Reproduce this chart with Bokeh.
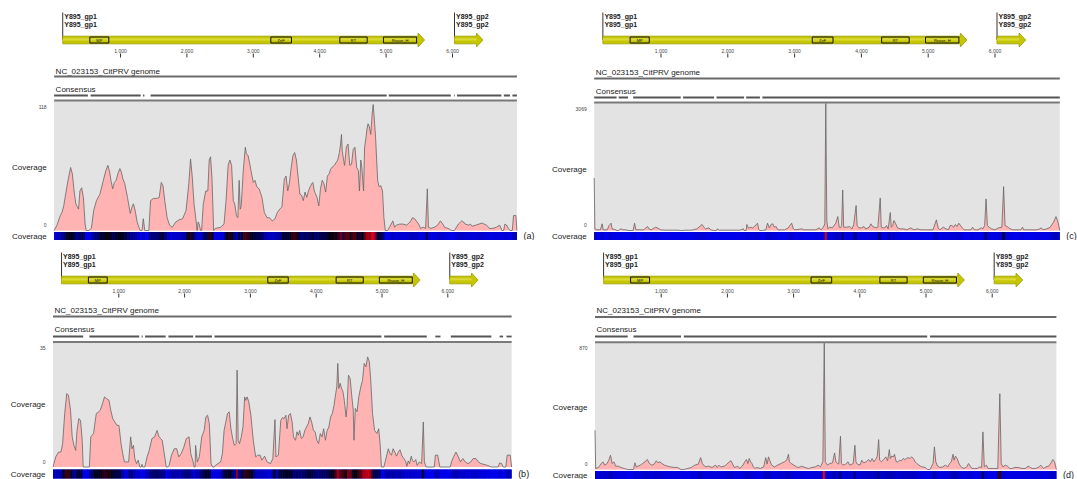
from bokeh.plotting import figure
from bokeh.models import Range1d, ColumnDataSource, LinearColorMapper
from bokeh.layouts import row, column
from bokeh.embed import file_html
from bokeh.resources import INLINE
from bokeh.core.properties import value
from bokeh.transform import transform

# ---------------- data ----------------
GENOME_LEN = 6970
genome_name = "NC_023153_CitPRV genome"
tick_positions = [1000, 2000, 3000, 4000, 5000, 6000]
tick_labels = ["1,000", "2,000", "3,000", "4,000", "5,000", "6,000"]
gene_names = ["Y895_gp1", "Y895_gp2"]
gene_starts = [130, 6030]
gene_ends = [5580, 6460]
domain_names = ["MP", "ZnF", "RT", "Rnase_H"]
domain_starts = [538, 3264, 4303, 4960]
domain_ends = [824, 3575, 4715, 5460]
panel_tags = ["(a)", "(b)", "(c)", "(d)"]
cov_max = [118, 35, 3069, 870]

consensus_a = [(0, 509), (550, 1303), (1339, 1360), (1453, 5008), (5040, 5974),
               (6026, 6036), (6067, 6737), (6773, 6866), (6903, 6970)]
consensus_b = [(0, 459), (553, 1310), (1347, 1363), (1399, 1712), (1754, 2130),
               (2161, 2417), (2454, 4991), (5033, 5680), (5811, 5889), (6046, 6662),
               (6787, 6840), (6892, 6970)]
consensus_c = [(0, 335), (366, 506), (583, 1295), (1331, 1795), (1831, 2244),
               (2275, 2481), (2518, 6970)]
consensus_d = [(0, 494), (582, 1300), (1342, 5018), (5060, 6970)]

coverage_a = [(0,0),(42,4.7),(93,14),(119,17),(145,23),(182,37),(213,48),(249,59),(275,53),(301,37),
 (327,25),(368,20),(389,37),(415,40),(441,31),(467,6),(483,0),(524,0),(561,2),(597,19),(638,28),(690,34),
 (742,47),(779,56),(810,61),(836,55),(856,47),(882,39),(908,45),(934,47),(960,53),(991,58),(1012,55),
 (1038,48),(1064,44),(1105,31),(1147,16),(1173,22),(1194,25),(1220,19),(1251,8),(1277,3),(1298,0),
 (1324,0),(1344,11),(1365,0),(1427,0),(1453,28),(1495,30),(1547,30),(1583,31),(1614,45),(1640,42),
 (1666,28),(1702,12),(1739,5),(1780,3),(1832,8),(1884,10),(1936,11),(1988,19),(2029,44),(2055,67),
 (2081,50),(2107,25),(2133,12),(2154,0),(2169,8),(2185,6),(2206,0),(2221,0),(2247,25),(2284,37),
 (2315,37),(2336,66),(2356,69),(2377,50),(2403,0),(2429,2),(2507,3),(2559,6),(2590,28),(2621,61),
 (2647,66),(2673,61),(2699,28),(2720,25),(2746,14),(2767,12),(2787,47),(2803,20),(2818,23),(2849,56),
 (2880,78),(2896,72),(2922,70),(2948,62),(2974,53),(3000,45),(3026,47),(3052,41),(3088,39),(3130,31),
 (3166,17),(3207,12),(3244,12),(3285,9),(3327,11),(3363,17),(3399,20),(3431,22),(3467,48),(3493,51),
 (3519,37),(3545,45),(3571,59),(3597,70),(3623,73),(3649,66),(3675,50),(3701,34),(3727,33),(3753,28),
 (3779,36),(3805,31),(3831,37),(3857,41),(3883,44),(3898,45),(3919,37),(3960,31),(3986,23),(4012,39),
 (4038,47),(4064,44),(4090,36),(4116,51),(4142,53),(4168,58),(4220,61),(4271,66),(4297,73),(4313,80),
 (4328,90),(4339,75),(4360,66),(4375,61),(4401,78),(4427,81),(4453,61),(4479,62),(4505,76),(4531,78),
 (4557,59),(4583,56),(4598,37),(4619,66),(4635,59),(4661,37),(4676,78),(4697,87),(4712,95),(4728,100),
 (4749,97),(4769,90),(4790,109),(4806,118),(4827,100),(4842,87),(4858,66),(4873,47),(4894,41),
 (4920,42),(4946,37),(4967,12),(4988,0),(5024,0),(5050,3),(5076,6),(5102,9),(5128,3),(5154,5),
 (5206,6),(5257,6),(5309,5),(5361,8),(5398,12),(5429,11),(5465,8),(5491,6),(5517,2),(5559,3),
 (5595,2),(5621,39),(5637,3),(5673,2),(5725,3),(5777,5),(5818,9),(5854,6),(5880,3),(5932,2),(5984,0),
 (6030,0),(6088,6),(6140,9),(6166,8),(6192,6),(6244,5),(6270,6),(6296,4),(6348,5),(6400,6),(6441,7),
 (6477,6),(6513,5),(6555,2),(6607,2),(6659,3),(6685,4),(6711,5),(6745,0),(6770,0),(6789,6),(6815,5),
 (6841,2),(6867,0),(6900,0),(6919,14),(6955,14),(6970,0)]

coverage_b = [(0,0),(42,3.0),(84,4.4),(120,4.4),(146,6.9),(178,15.8),(209,21.7),(235,21.2),(266,16.8),
 (292,8.9),(318,6.4),(345,4.9),(365,10.8),(392,14.3),(418,13.8),(444,7.9),(459,0),(553,0),(574,8.9),
 (616,9.9),(658,15.8),(694,16.3),(720,16.8),(752,18.7),(783,20.7),(814,20.2),(851,19.7),(877,16.8),
 (908,14.3),(940,13.3),(971,12.3),(1002,12.3),(1034,6.9),(1060,3.9),(1086,1.5),(1149,1.5),(1180,8.9),
 (1201,5.4),(1222,6.4),(1243,2.5),(1269,1.0),(1295,2.0),(1321,0),(1340,0),(1352,0.8),(1365,0),
 (1395,0),(1430,3.0),(1462,4.9),(1504,8.4),(1545,8.9),(1582,10.8),(1608,9.1),(1634,8.4),(1660,7.9),
 (1702,2.5),(1720,0),(1745,0),(1765,0.5),(1801,3.5),(1843,5.4),(1880,5.4),(1911,3.0),(1947,3.9),
 (1989,5.9),(2026,8.4),(2068,8.9),(2094,3.9),(2130,1.5),(2145,0),(2160,0),(2167,6.4),(2193,1.5),
 (2224,3.0),(2261,8.9),(2297,10.8),(2323,14.8),(2349,15.3),(2376,12.8),(2402,1.0),(2425,0),(2450,0),
 (2470,0.5),(2506,1.0),(2548,1.5),(2574,3.9),(2600,10.8),(2627,13.3),(2652,15.8),(2678,16.3),
 (2704,11.3),(2731,8.4),(2757,6.4),(2783,6.9),(2798,28.6),(2814,7.9),(2835,6.9),(2861,8.9),(2887,11.8),
 (2913,20.7),(2929,19.7),(2950,20.7),(2976,19.2),(3007,15.3),(3044,7.9),(3080,3.0),(3112,3.5),
 (3148,3.5),(3174,2.0),(3216,3.2),(3253,1.5),(3305,1.0),(3341,2.5),(3373,14.0),(3388,3.0),(3425,3.5),
 (3462,13.8),(3488,14.6),(3514,14.3),(3540,15.3),(3556,11.3),(3582,15.3),(3608,15.8),(3634,13.3),
 (3655,8.9),(3686,7.9),(3707,10.4),(3728,9.4),(3749,10.8),(3775,8.4),(3801,8.9),(3827,10.8),
 (3853,11.8),(3879,12.8),(3905,14.8),(3931,13.3),(3958,10.8),(3984,10.4),(4010,7.9),(4036,6.9),
 (4062,9.9),(4088,8.9),(4114,11.3),(4140,7.9),(4166,10.8),(4192,11.8),(4219,14.8),(4245,15.8),
 (4271,18.2),(4297,21.7),(4313,23.7),(4328,30.6),(4344,23.2),(4365,24.7),(4386,23.2),(4407,22.2),
 (4427,19.7),(4454,14.8),(4469,17.7),(4490,27.1),(4516,26.1),(4542,20.7),(4563,16.8),(4574,7.9),
 (4594,17.3),(4621,16.3),(4647,20.7),(4678,23.7),(4704,25.6),(4730,30.6),(4756,29.6),(4782,32.5),
 (4808,31.1),(4829,25.6),(4856,15.8),(4887,10.8),(4923,9.9),(4950,11.3),(4971,6.9),(4991,0),(5028,0),
 (5054,2.0),(5096,5.4),(5122,3.9),(5143,3.5),(5169,5.4),(5195,4.4),(5221,3.2),(5247,4.4),(5273,5.1),
 (5299,3.5),(5331,2.5),(5357,1.8),(5378,0.2),(5398,1.8),(5419,1.0),(5445,3.2),(5461,2.0),(5487,1.5),
 (5513,2.2),(5534,0.5),(5566,1.5),(5602,1.0),(5628,13.3),(5644,1.5),(5670,0),(5795,0),(5811,3.5),
 (5847,3.5),(5879,0),(6036,0),(6056,1.5),(6088,3.0),(6124,4.4),(6161,3.0),(6192,1.5),(6229,2.5),
 (6265,1.5),(6307,1.0),(6349,1.5),(6385,2.5),(6427,2.5),(6464,1.5),(6505,1.0),(6600,0.5),(6662,0),
 (6766,0),(6787,1.2),(6819,1.0),(6840,0),(6882,0),(6902,3.5),(6949,3.5),(6970,0)]

coverage_c = [(0,1269),(10,40),(41,16),(93,16),(119,161),(134,16),(196,16),(222,120),(237,145),(253,177),
 (268,40),(325,16),(340,0),(360,0),(377,16),(402,40),(428,16),(480,16),(506,0),(583,0),(604,177),
 (624,16),(686,16),(738,16),(800,96),(820,40),(851,16),(918,80),(944,64),(970,40),(996,16),(1047,8),
 (1150,8),(1254,8),(1295,0),(1331,0),(1357,8),(1460,8),(1537,40),(1615,145),(1641,80),(1666,40),
 (1718,64),(1744,16),(1795,0),(1831,0),(1842,40),(1873,8),(1976,8),(2079,8),(2182,8),(2234,40),
 (2244,0),(2275,0),(2285,145),(2311,56),(2347,80),(2373,64),(2399,96),(2445,177),(2466,16),(2481,0),
 (2518,0),(2569,16),(2595,177),(2621,64),(2647,145),(2672,161),(2698,80),(2724,96),(2750,16),
 (2801,16),(2853,16),(2904,64),(2956,177),(2982,40),(3008,16),(3111,40),(3137,16),(3214,16),(3317,16),
 (3369,64),(3395,16),(3431,80),(3452,161),(3467,3069),(3482,241),(3498,40),(3523,80),(3565,64),
 (3616,177),(3647,337),(3668,80),(3688,64),(3704,120),(3720,980),(3735,80),(3782,80),(3823,96),
 (3859,40),(3885,145),(3921,603),(3936,120),(3962,64),(4003,64),(4039,96),(4065,40),(4117,80),
 (4143,161),(4168,96),(4220,64),(4246,80),(4282,787),(4297,80),(4323,64),(4349,64),(4375,120),
 (4401,40),(4432,434),(4447,80),(4468,120),(4488,241),(4514,161),(4540,64),(4581,40),(4633,40),
 (4684,16),(4736,64),(4788,16),(4839,40),(4891,16),(4942,16),(4994,16),(5071,16),(5123,257),(5149,64),
 (5174,16),(5226,80),(5267,40),(5303,16),(5329,120),(5355,120),(5381,80),(5407,145),(5432,96),
 (5458,177),(5484,120),(5510,64),(5536,16),(5587,16),(5639,16),(5665,80),(5690,16),(5742,16),
 (5794,64),(5819,40),(5845,120),(5866,763),(5886,120),(5912,80),(5948,40),(6000,16),(6052,64),
 (6103,80),(6129,1060),(6150,120),(6180,96),(6206,64),(6258,16),(6309,16),(6387,16),(6413,80),
 (6428,16),(6464,16),(6516,16),(6567,16),(6619,16),(6671,40),(6696,64),(6722,16),(6774,40),(6826,80),
 (6877,201),(6913,337),(6944,201),(6970,0)]

coverage_d = [(0,270),(10,7),(52,14),(94,41),(120,53),(146,30),(182,41),(208,64),(234,98),(260,41),
 (286,53),(312,23),(354,23),(390,14),(442,7),(494,0),(582,0),(603,46),(624,18),(650,23),(686,30),
 (718,41),(754,53),(790,69),(822,41),(858,30),(894,37),(926,60),(952,46),(978,53),(1014,41),(1050,30),
 (1092,23),(1144,18),(1196,14),(1248,14),(1300,0),(1342,0),(1404,7),(1456,14),(1508,30),(1560,37),
 (1596,82),(1622,41),(1664,18),(1716,23),(1768,14),(1820,30),(1846,14),(1872,30),(1898,18),(1950,23),
 (1976,30),(2028,53),(2054,60),(2080,37),(2106,14),(2132,18),(2158,23),(2184,7),(2236,30),(2262,53),
 (2288,69),(2309,41),(2330,76),(2350,53),(2371,41),(2392,18),(2418,7),(2444,14),(2496,7),(2548,18),
 (2579,82),(2600,37),(2621,87),(2642,60),(2662,37),(2688,23),(2714,18),(2756,30),(2808,41),(2860,53),
 (2896,64),(2922,105),(2938,53),(2964,41),(3006,30),(3042,18),(3078,14),(3120,23),(3172,14),(3224,7),
 (3276,14),(3328,18),(3370,30),(3406,18),(3442,53),(3463,870),(3479,53),(3510,30),(3546,41),(3588,46),
 (3619,114),(3640,53),(3666,41),(3682,37),(3708,229),(3723,41),(3744,30),(3786,37),(3822,53),
 (3848,30),(3900,41),(3926,167),(3942,53),(3962,37),(4004,30),(4030,64),(4056,46),(4098,53),
 (4134,69),(4160,53),(4186,76),(4212,53),(4238,69),(4264,92),(4285,206),(4300,64),(4326,53),
 (4358,69),(4394,87),(4420,60),(4446,137),(4462,76),(4482,92),(4508,87),(4524,105),(4550,53),
 (4576,53),(4602,64),(4628,60),(4654,76),(4680,69),(4706,76),(4732,82),(4758,76),(4784,87),(4810,76),
 (4836,53),(4862,41),(4914,23),(4950,18),(4992,14),(5018,0),(5060,0),(5106,41),(5127,156),(5148,53),
 (5174,23),(5210,14),(5252,18),(5294,30),(5330,18),(5356,41),(5382,53),(5408,105),(5424,64),
 (5444,92),(5470,76),(5502,37),(5538,14),(5574,7),(5616,18),(5642,41),(5668,23),(5694,7),(5730,7),
 (5772,7),(5814,18),(5840,14),(5860,259),(5881,18),(5912,30),(5938,7),(5980,7),(6032,7),(6084,7),
 (6115,522),(6136,41),(6162,18),(6198,30),(6230,23),(6266,7),(6302,7),(6344,14),(6396,14),(6448,7),
 (6500,7),(6542,23),(6578,14),(6604,7),(6656,7),(6708,18),(6734,30),(6774,7),(6812,18),(6854,23),
 (6890,46),(6916,69),(6942,53),(6970,0)]

# ---------------- layout / style ----------------
FONT = value("Liberation Sans")
TOP_ROWS = dict(lab1=16, lab2=24, vtop=12, bar=39.5, ticklab=50, tick0=53, tick1=57)
PANEL_LAYOUT = {
    "a": dict(width=540, height=240, left=53.6, scale=0.0664, gtext=70.5, gline=76, ctext=89,
              cseg=95, covtop=100, covmax=104, base=230, strip0=231.5, strip1=239.5, covlab=167),
    "b": dict(width=540, height=239, left=52.5, scale=0.0658, gtext=69.5, gline=76, ctext=89,
              cseg=96, covtop=101.5, covmax=108, base=226.5, strip0=229, strip1=238, covlab=164),
    "c": dict(width=537, height=240, left=53.7, scale=0.0668, gtext=71.5, gline=78, ctext=91,
              cseg=97, covtop=102, covmax=103, base=230, strip0=231.5, strip1=239.5, covlab=169),
    "d": dict(width=537, height=239, left=54.5, scale=0.0662, gtext=70, gline=76.5, ctext=89,
              cseg=96, covtop=101.7, covmax=102.7, base=229, strip0=230.5, strip1=238.5, covlab=167),
}

palette = []
for i in range(256):
    t = i / 255.0
    if t < 0.5:
        palette.append("#%02x%02x%02x" % (0, 0, int(235 * (1 - t / 0.5))))
    else:
        palette.append("#%02x%02x%02x" % (int(255 * (t - 0.5) / 0.5), 0, 0))


def make_panel(L, coverage, consensus, vmax, tag):
    R = dict(TOP_ROWS)
    R.update(L)
    width, height, scale = L["width"], L["height"], L["scale"]

    def bp(px):
        return px / scale

    xs = -bp(L["left"])
    p = figure(width=width, height=height, x_range=Range1d(xs, xs + bp(width)),
               y_range=Range1d(height, 0), output_backend="svg", toolbar_location=None,
               min_border=0, x_axis_type=None, y_axis_type=None,
               outline_line_color=None, background_fill_color="white",
               border_fill_color="white")
    base, mrow = R["base"], R["covmax"]
    p.extra_y_ranges = {"cov": Range1d(vmax * (base - height) / (base - mrow),
                                       vmax * base / (base - mrow))}

    # gene labels + arrows
    p.segment(x0=gene_starts, y0=[R["vtop"]] * 2, x1=gene_starts, y1=[R["bar"]] * 2,
              line_color="#333333", line_width=1)
    for nm_row in ("lab1", "lab2"):
        p.text(x=[g + bp(1.5) for g in gene_starts], y=[R[nm_row]] * 2, text=gene_names,
               text_font=FONT, text_font_size="7px", text_font_style="bold",
               text_color="#222222", text_align="left", text_baseline="middle")
    head = bp(6.6)
    b, bh, hh = R["bar"], 3.8, 7.0
    axs, ays = [], []
    for s, e in zip(gene_starts, gene_ends):
        axs.append([s, e - head, e - head, e, e - head, e - head, s])
        ays.append([b - bh, b - bh, b - hh, b, b + hh, b + bh, b + bh])
    p.patches(xs=axs, ys=ays, fill_color="#c6c600", line_color="#9a9a00", line_width=0.8)
    p.patches(xs=[[s, e - head, e - head, s] for s, e in zip(gene_starts, gene_ends)],
              ys=[[b - 1.8, b - 1.8, b + 0.4, b + 0.4]] * 2, fill_color="#d8d838",
              line_color=None)
    p.quad(left=domain_starts, right=domain_ends, top=[b - 3.0] * 4, bottom=[b + 3.0] * 4,
           fill_alpha=0, line_color="#111111", line_width=1)
    p.text(x=[(s + e) / 2 for s, e in zip(domain_starts, domain_ends)], y=[b] * 4,
           text=domain_names, text_font=FONT, text_font_size="4px", text_color="#111111",
           text_align="center", text_baseline="middle")

    # ruler
    p.segment(x0=tick_positions, y0=[R["tick0"]] * 6, x1=tick_positions, y1=[R["tick1"]] * 6,
              line_color="#333333", line_width=1)
    p.text(x=tick_positions, y=[R["ticklab"]] * 6, text=tick_labels, text_font=FONT,
           text_font_size="5px", text_color="#444444", text_align="center",
           text_baseline="middle")

    # genome + consensus tracks
    p.text(x=[bp(1.5), bp(1.5)], y=[R["gtext"], R["ctext"]], text=[genome_name, "Consensus"],
           text_font=FONT, text_font_size="8px", text_color="#222222", text_align="left",
           text_baseline="middle")
    p.segment(x0=[0], y0=[R["gline"]], x1=[GENOME_LEN], y1=[R["gline"]],
              line_color="#6a6a6a", line_width=2)
    p.segment(x0=[c[0] for c in consensus], y0=[R["cseg"]] * len(consensus),
              x1=[c[1] for c in consensus], y1=[R["cseg"]] * len(consensus),
              line_color="#555555", line_width=1.8)

    # coverage graph
    p.quad(left=[0], right=[GENOME_LEN], top=[R["covtop"]], bottom=[base],
           fill_color="#e3e3e3", line_color=None)
    p.segment(x0=[0], y0=[R["covtop"]], x1=[GENOME_LEN], y1=[R["covtop"]],
              line_color="#7a7a7a", line_width=2)
    pos = [c[0] for c in coverage]
    val = [c[1] for c in coverage]
    p.varea(x=pos, y1=[0] * len(pos), y2=val, y_range_name="cov", fill_color="#ffb3b3")
    p.line(pos, val, y_range_name="cov", line_color="#666666", line_width=0.8)
    lab_x = -bp(7.5)
    p.text(x=[lab_x] * 2, y=[R["covtop"] + 6, base - 5.5], text=[str(vmax), "0"],
           text_font=FONT, text_font_size="5px", text_color="#444444", text_align="right",
           text_baseline="middle")
    smid = (R["strip0"] + R["strip1"]) / 2
    p.text(x=[lab_x] * 2, y=[R["covlab"], smid], text=["Coverage", "Coverage"],
           text_font=FONT, text_font_size="8px", text_color="#222222", text_align="right",
           text_baseline="middle")

    # coverage heat strip: solid low-coverage base, then per-interval colours
    p.quad(left=[0], right=[GENOME_LEN], top=[R["strip0"]], bottom=[R["strip1"]],
           fill_color=palette[8], line_color=None)
    src = ColumnDataSource(dict(left=pos[:-1], right=pos[1:],
                                v=[max(a, c) for a, c in zip(val[:-1], val[1:])]))
    mapper = LinearColorMapper(palette=palette, low=0, high=vmax)
    p.quad(left="left", right="right", top=R["strip0"], bottom=R["strip1"], source=src,
           fill_color=transform("v", mapper), line_color=None)
    p.text(x=[GENOME_LEN + bp(6.5)], y=[smid], text=[tag],
           text_font=FONT, text_font_size="9px", text_color="#222222", text_align="left",
           text_baseline="middle")
    return p


pa = make_panel(PANEL_LAYOUT["a"], coverage_a, consensus_a, cov_max[0], panel_tags[0])
pb = make_panel(PANEL_LAYOUT["b"], coverage_b, consensus_b, cov_max[1], panel_tags[1])
pc = make_panel(PANEL_LAYOUT["c"], coverage_c, consensus_c, cov_max[2], panel_tags[2])
pd = make_panel(PANEL_LAYOUT["d"], coverage_d, consensus_d, cov_max[3], panel_tags[3])

layout = row(column(pa, pb), column(pc, pd))
open("out.html", "w").write(file_html(layout, INLINE))
